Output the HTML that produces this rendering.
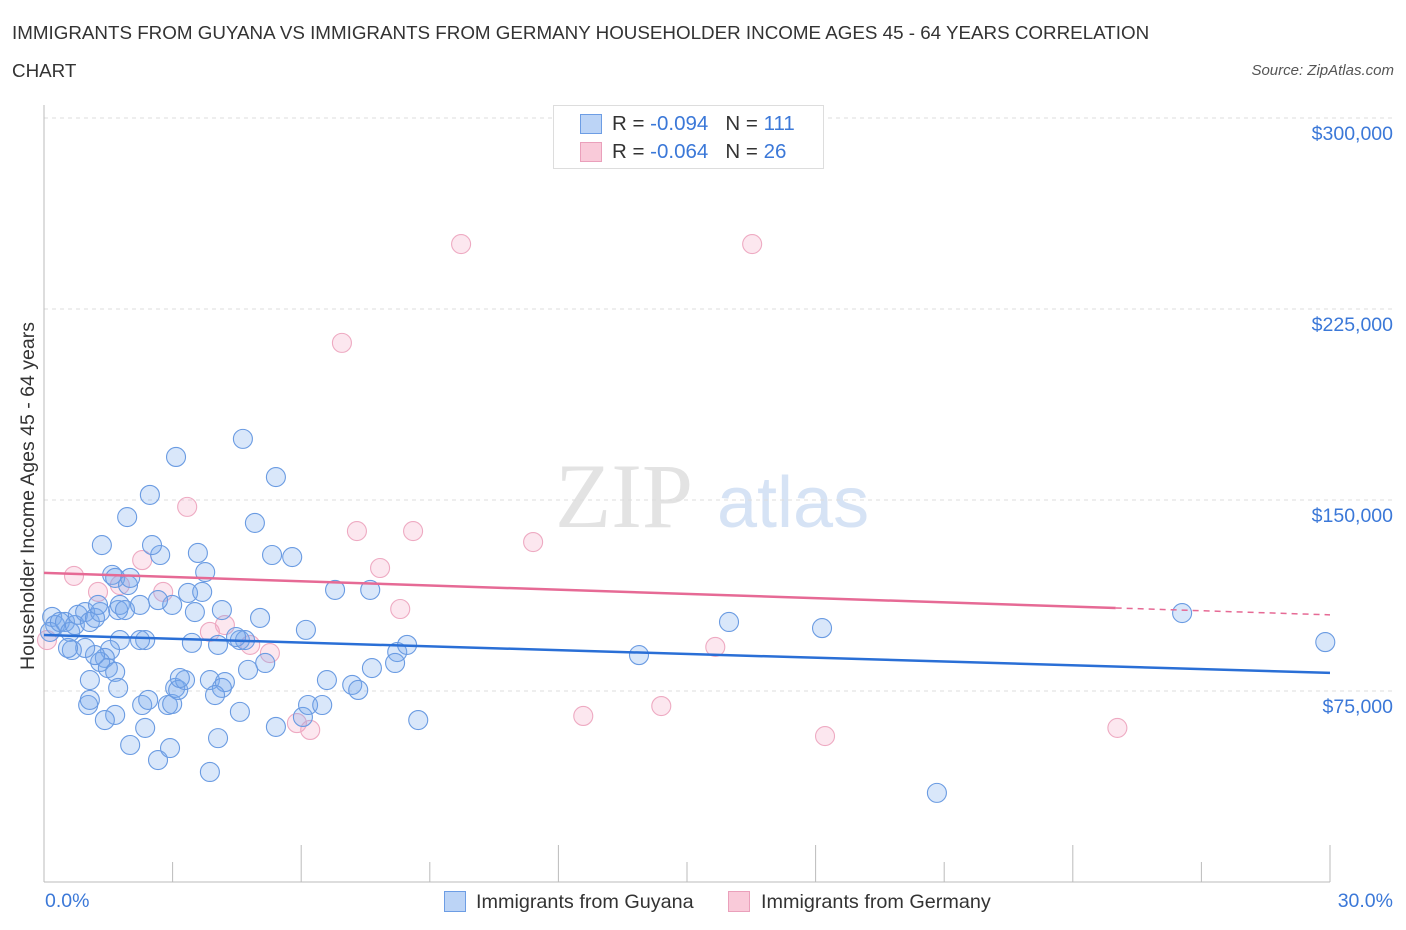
<!DOCTYPE html>
<html><head><meta charset="utf-8"><style>
body{margin:0;background:#fff;font-family:"Liberation Sans",sans-serif;}
#wrap{position:relative;width:1406px;height:930px;overflow:hidden}
.t{position:absolute;white-space:nowrap}
</style></head><body>
<div id="wrap">
<div class="t" style="left:12px;top:22px;font-size:18.8px;color:#333">IMMIGRANTS FROM GUYANA VS IMMIGRANTS FROM GERMANY HOUSEHOLDER INCOME AGES 45 - 64 YEARS CORRELATION</div>
<div class="t" style="left:12px;top:60px;font-size:18.8px;color:#333">CHART</div>
<div class="t" style="right:12px;top:62px;font-size:15px;color:#555;font-style:italic">Source: ZipAtlas.com</div>
<svg id="svg" width="1406" height="930" style="position:absolute;left:0;top:0"></svg>
</div>
<script>
const blueX=[0.19,0.26,0.14,0.37,0.49,0.61,0.72,0.79,0.96,1.07,1.19,1.31,1.26,1.35,1.59,1.66,1.73,1.77,1.89,1.96,2.01,1.94,1.77,1.54,1.42,1.31,1.49,1.66,1.19,1.07,1.03,0.96,0.65,0.56,1.73,1.66,1.42,1.07,2.01,2.36,2.29,2.43,2.66,2.94,2.89,2.99,3.06,3.13,3.29,3.17,3.45,3.52,3.36,2.99,2.71,2.66,2.52,2.47,3.08,2.36,2.24,2.24,3.59,3.76,3.69,4.15,4.06,3.87,4.22,4.15,3.99,4.06,3.87,4.57,4.64,4.92,4.57,4.69,4.76,5.16,5.04,5.32,5.41,5.79,5.41,6.04,6.16,6.49,6.11,6.60,6.79,7.19,7.33,7.65,7.61,8.24,8.19,8.47,8.73,13.88,15.98,18.15,20.83,26.55,29.89,4.48];
const blueY=[104.1,100.9,98.2,102.1,102.1,98.2,100.9,104.9,106.0,102.1,103.7,106.0,108.8,132.3,120.6,119.4,106.8,108.8,106.8,116.6,119.4,143.3,95.0,91.1,88.0,86.4,84.0,82.5,89.1,79.3,69.5,91.9,91.1,91.9,76.2,65.6,63.6,71.5,53.8,60.5,69.5,71.5,47.9,52.6,69.5,69.9,76.2,75.4,79.3,80.1,93.9,106.0,113.5,108.8,128.4,110.7,132.3,152.0,166.9,95.0,95.0,108.8,129.2,121.7,113.9,106.8,93.1,79.3,78.5,76.2,73.4,56.5,43.2,66.8,174.0,141.0,95.0,95.0,83.3,86.0,103.7,128.4,159.0,127.6,60.9,64.8,69.5,69.5,99.0,79.3,114.7,77.4,75.4,84.0,114.7,90.3,86.0,93.1,63.6,89.1,102.1,99.7,35.0,105.6,94.2,96.2];
const pinkX=[9.73,16.52,6.95,3.34,7.30,8.61,11.41,7.84,0.70,2.29,1.26,1.77,2.78,8.31,3.87,4.22,4.81,5.27,5.90,6.21,0.07,12.58,14.40,15.66,18.22,25.04];
const pinkY=[250.5,250.5,211.7,147.3,137.8,137.8,133.5,123.3,120.2,126.4,113.9,116.6,113.9,107.2,98.2,100.9,93.1,89.9,62.4,59.7,95.0,65.2,69.1,92.3,57.3,60.5];
const blueTrend=[[0,97.0],[30,82.1]];
const pinkTrend=[[0,121.4],[25,107.6],[30,104.9]];
const yTicks=[75,150,225,300];
const yTickLabels=["$75,000","$150,000","$225,000","$300,000"];
const xTicks=[0,3,6,9,12,15,18,21,24,27,30];

const NS="http://www.w3.org/2000/svg",svg=document.getElementById('svg');
const X0=44,X1=1330,Y0=882;
const sx=v=>X0+(v/30)*(X1-X0);
const sy=v=>Y0-(v/75)*191;
function mk(t,a,p){const e=document.createElementNS(NS,t);for(const k in a)e.setAttribute(k,a[k]);(p||svg).appendChild(e);return e;}
let w=mk('text',{x:555,y:527,'font-size':92,'font-family':'Liberation Serif',fill:'#e3e3e3'});w.textContent='ZIP';


let w2=mk('text',{x:717,y:527,'font-size':72,'font-family':'Liberation Sans',fill:'#d6e3f5'});w2.textContent='atlas';


yTicks.forEach((v,i)=>{
 const g=mk('line',{x1:X0,x2:1394,y1:sy(v),y2:sy(v),stroke:'#ddd','stroke-dasharray':'4,4'});
 
 
 const t=mk('text',{x:1393,y:sy(v)+22,'text-anchor':'end','font-size':19.5,fill:'#3b78d8','font-family':'Liberation Sans'});
 t.textContent=yTickLabels[i];
 
 
});
mk('line',{x1:X0,x2:X0,y1:105,y2:Y0,stroke:'#bbb'});
mk('line',{x1:X0,x2:X1,y1:Y0,y2:Y0,stroke:'#bbb'});
xTicks.forEach(v=>{const l=mk('line',{x1:sx(v),x2:sx(v),y1:Y0,y2:v%6==0?845:862,stroke:'#bbb'});
 
 });
function dots(xs,ys,fill,stroke,name){xs.forEach((x,i)=>{const c=mk('circle',{cx:sx(x),cy:sy(ys[i]),r:9.5,fill:fill,stroke:stroke,'stroke-width':1.1});
 
 });}
dots(pinkX,pinkY,'rgba(244,160,190,0.25)','#eeaac2','germany-point');
dots(blueX,blueY,'rgba(120,168,238,0.28)','#6a9be2','guyana-point');
let bl=mk('line',{x1:sx(blueTrend[0][0]),y1:sy(blueTrend[0][1]),x2:sx(blueTrend[1][0]),y2:sy(blueTrend[1][1]),stroke:'#2a6fd6','stroke-width':2.5});

let pl=mk('line',{x1:sx(pinkTrend[0][0]),y1:sy(pinkTrend[0][1]),x2:sx(pinkTrend[1][0]),y2:sy(pinkTrend[1][1]),stroke:'#e66a95','stroke-width':2.5});

let pd=mk('line',{x1:sx(pinkTrend[1][0]),y1:sy(pinkTrend[1][1]),x2:sx(pinkTrend[2][0]),y2:sy(pinkTrend[2][1]),stroke:'#e66a95','stroke-width':1.5,'stroke-dasharray':'6,5'});

</script>
<div class="t" style="left:45px;top:890px;font-size:19.5px;color:#3b78d8">0.0%</div>
<div class="t" style="right:13px;top:890px;font-size:19.5px;color:#3b78d8">30.0%</div>
<div class="t" style="left:17px;top:670px;font-size:19.5px;color:#333;transform:rotate(-90deg);transform-origin:0 0">Householder Income Ages 45 - 64 years</div>
<div style="position:absolute;left:553px;top:105px;width:269px;height:62px;border:1px solid #ddd;background:#fff;font-size:20.5px">
 <div class="t" style="left:26px;top:8px;width:20px;height:18px;background:#bcd4f6;border:1px solid #6d9de4"></div>
 <div class="t" style="left:58px;top:6px;color:#333">R = <span style="color:#3b78d8">-0.094</span>&nbsp;&nbsp;&nbsp;N = <span style="color:#3b78d8">111</span></div>
 <div class="t" style="left:26px;top:36px;width:20px;height:18px;background:#f9cad9;border:1px solid #eaa0bb"></div>
 <div class="t" style="left:58px;top:34px;color:#333">R = <span style="color:#3b78d8">-0.064</span>&nbsp;&nbsp;&nbsp;N = <span style="color:#3b78d8">26</span></div>
</div>
<div class="t" style="left:444px;top:891px;width:20px;height:19px;background:#bcd4f6;border:1px solid #6d9de4"></div>
<div class="t" style="left:476px;top:891px;font-size:19.8px;color:#333">Immigrants from Guyana</div>
<div class="t" style="left:728px;top:891px;width:20px;height:19px;background:#f9cad9;border:1px solid #eaa0bb"></div>
<div class="t" style="left:761px;top:891px;font-size:19.8px;color:#333">Immigrants from Germany</div>
</body></html>
